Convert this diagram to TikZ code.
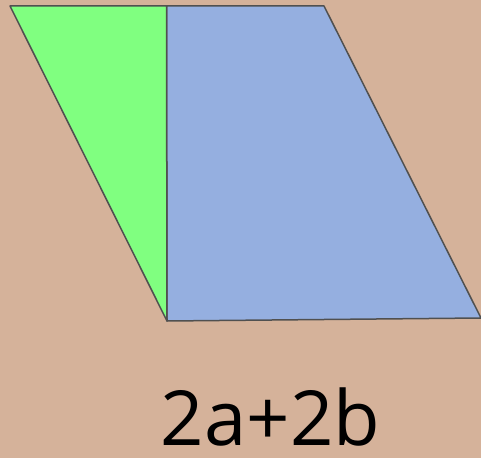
\documentclass[tikz,border=0pt]{standalone}
\usepackage{fontspec}
\setmainfont{Open Sans}
\usetikzlibrary{positioning}
\definecolor{bgtan}{HTML}{D5B29A}
\definecolor{trifill}{HTML}{80FF80}
\definecolor{parfill}{HTML}{95AFE0}
\definecolor{edgecol}{HTML}{505050}
\tikzset{
    piece/.style={draw=edgecol, line width=1.5pt, line join=round},
    sumlab/.style={font=\fontsize{76}{86}\selectfont, inner sep=0pt, anchor=base}
}
\begin{document}
\begin{tikzpicture}[x=1pt, y=1pt]
    \fill[bgtan] (0,0) rectangle (481,458);
    \useasboundingbox (0,0) rectangle (481,458);

    % corners of the two pieces
    \coordinate (tl) at (10,452);
    \coordinate (tm) at (166.5,452);
    \coordinate (tr) at (324,452);
    \coordinate (bm) at (167,137);
    \coordinate (br) at (481,140);

    \filldraw[piece, fill=parfill] (tm) -- (tr) -- (br) -- (bm) -- cycle;
    \filldraw[piece, fill=trifill] (tl) -- (tm) -- (bm) -- cycle;

    \node[sumlab] (sum) at (270.5,13) {2a+2b};
\end{tikzpicture}
\end{document}
